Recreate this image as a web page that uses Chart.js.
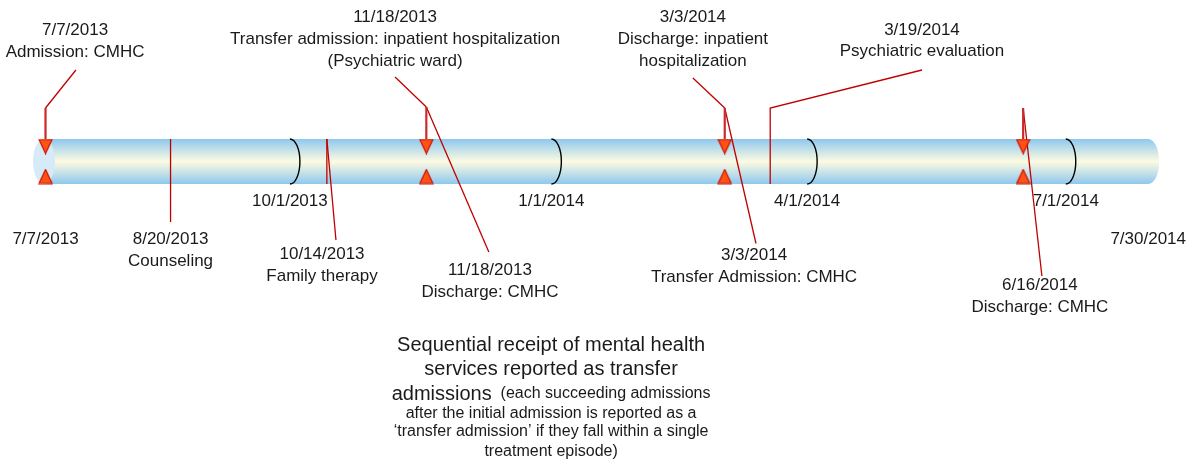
<!DOCTYPE html>
<html>
<head>
<meta charset="utf-8">
<script src="https://cdn.jsdelivr.net/npm/chart.js@4.4.0/dist/chart.umd.min.js"></script>
<style>
  html, body { margin: 0; padding: 0; background: #fff; }
</style>
</head>
<body>
<canvas id="timeline" width="1190" height="466"></canvas>
<script>
// treatment episode, all positions are days counted from the first admission
const startDate = '7/7/2013';
const endDate = '7/30/2014';

// admissions / transfers / discharges -> red triangles
const admitDates = ['7/7/2013', '11/18/2013', '3/3/2014', '6/16/2014'];
// other services -> plain red line through the tube
const serviceDates = ['8/20/2013', '10/14/2013', '3/19/2014'];
// quarter marks on the tube
const tickDates = ['10/1/2013', '1/1/2014', '4/1/2014', '7/1/2014'];

const topDates = ['7/7/2013', '11/18/2013', '3/3/2014', '3/19/2014'];
const topText = [
  ['7/7/2013', 'Admission: CMHC'],
  ['11/18/2013', 'Transfer admission: inpatient hospitalization', '(Psychiatric ward)'],
  ['3/3/2014', 'Discharge: inpatient', 'hospitalization'],
  ['3/19/2014', 'Psychiatric evaluation']
];
const bottomDates = ['7/7/2013', '8/20/2013', '10/14/2013', '11/18/2013', '3/3/2014', '6/16/2014', '7/30/2014'];
const bottomText = [
  ['7/7/2013'],
  ['8/20/2013', 'Counseling'],
  ['10/14/2013', 'Family therapy'],
  ['11/18/2013', 'Discharge: CMHC'],
  ['3/3/2014', 'Transfer Admission: CMHC'],
  ['6/16/2014', 'Discharge: CMHC'],
  ['7/30/2014']
];

const noteText = [
  ['Sequential receipt of mental health'],
  ['services reported as transfer'],
  ['admissions', '  (each succeeding admissions'],
  ['after the initial admission is reported as a'],
  ['\u2018transfer admission\u2019 if they fall within a single'],
  ['treatment episode)']
];

// ---- layout (x offsets in days from the event, y in "levels", tube centre = 0) ----
const TUBE = 2.25;
const MARK = 1.5;
const LINE_GAP = 2.2;
const topLayout = [
  { label: [10.4, 13.15], thin: [[[10.7, 9.15], [0, 5.35]]], stem: [[0, 5.35], [0, TUBE]] },
  { label: [-11, 14.4], thin: [[[-11, 8.45], [0, 5.45]]], stem: [[0, 5.45], [0, TUBE]] },
  { label: [-11.2, 14.4], thin: [[[-11.2, 8.35], [0, 5.35]]], stem: [[0, 5.35], [0, TUBE]] },
  { label: [53.4, 13.1], gap: 2.1, thin: [[[53.4, 9.15], [0, 5.35], [0, -TUBE]]] }
];
const bottomLayout = [
  { label: [0, -7.75] },
  { label: [0, -7.75], thin: [[[0, TUBE], [0, -6.05]]] },
  { label: [-1.7, -9.25], thin: [[[0, TUBE], [0, -TUBE]], [[0, TUBE], [3.2, -7.85]]] },
  { label: [22.4, -10.85], thin: [[[0, 5.45], [22, -9.05]]] },
  { label: [10.3, -9.35], thin: [[[0, 5.35], [11, -8.2]]] },
  { label: [5.9, -12.35], thin: [[[0, 5.35], [6.6, -11.45]]], stem: [[0, 5.35], [0, TUBE]] },
  { label: [0, -7.75] }
];
const noteAt = [177.9, [-18.35, -20.75, -23.25, -25.25, -27.05, -29.05]];
const noteSizes = [[20], [20], [20, 16], [16], [16], [16]];

const FONT = '"Liberation Sans", Arial, sans-serif';
const RED = '#c00000';

function dayOf(s) {
  let p = s.split('/');
  let a = Date.UTC(+p[2], +p[0] - 1, +p[1]);
  let q = startDate.split('/');
  let b = Date.UTC(+q[2], +q[0] - 1, +q[1]);
  return Math.round((a - b) / 86400000);
}

function triangleImg(down) {
  let c = document.createElement('canvas');
  c.width = 15; c.height = 16;
  let g = c.getContext('2d');
  g.beginPath();
  if (down) { g.moveTo(1, 1); g.lineTo(14, 1); g.lineTo(7.5, 15); }
  else { g.moveTo(7.5, 1); g.lineTo(14, 15); g.lineTo(1, 15); }
  g.closePath();
  g.fillStyle = '#ff5214';
  g.fill();
  g.strokeStyle = '#cc1100';
  g.lineWidth = 1.2;
  g.stroke();
  return c;
}

function pathData(day, pts) {
  return pts.map(p => ({ x: day + p[0], y: p[1] }));
}

let datasets = [];
// triangles on top
datasets.push({
  data: admitDates.map(d => ({ x: dayOf(d), y: MARK })),
  pointStyle: triangleImg(true), showLine: false, order: 0
});
datasets.push({
  data: admitDates.map(d => ({ x: dayOf(d), y: -MARK })),
  pointStyle: triangleImg(false), showLine: false, order: 0
});

function addLines(date, lay) {
  let day = dayOf(date);
  (lay.thin || []).forEach(seg => {
    datasets.push({ data: pathData(day, seg), showLine: true, borderColor: RED, borderWidth: 1.3, pointRadius: 0, order: 2 });
  });
  if (lay.stem) {
    datasets.push({ data: pathData(day, lay.stem), showLine: true, borderColor: '#cc2a2a', borderWidth: 2.2, pointRadius: 0, order: 1 });
  }
}
topDates.forEach((d, i) => addLines(d, topLayout[i]));
bottomDates.forEach((d, i) => addLines(d, bottomLayout[i]));

const tubePlugin = {
  id: 'tube',
  beforeDatasetsDraw(chart) {
    const ctx = chart.ctx, x = chart.scales.x, y = chart.scales.y;
    const x0 = x.getPixelForValue(dayOf(startDate));
    const x1 = x.getPixelForValue(dayOf(endDate));
    const yt = y.getPixelForValue(TUBE), yb = y.getPixelForValue(-TUBE);
    const ry = (yb - yt) / 2, yc = (yt + yb) / 2;
    ctx.save();
    let grad = ctx.createLinearGradient(0, yt, 0, yb);
    grad.addColorStop(0, '#8ec8ee');
    grad.addColorStop(0.5, '#fdfbe2');
    grad.addColorStop(1, '#8ec8ee');
    ctx.fillStyle = grad;
    ctx.beginPath();
    ctx.moveTo(x0, yt);
    ctx.lineTo(x1, yt);
    ctx.ellipse(x1, yc, 11, ry, 0, -Math.PI / 2, Math.PI / 2);
    ctx.lineTo(x0, yb);
    ctx.closePath();
    ctx.fill();
    // left face of the cylinder
    ctx.beginPath();
    ctx.ellipse(x0 - 1.5, yc, 11, ry, 0, 0, Math.PI * 2);
    ctx.fillStyle = '#d6eaf8';
    ctx.fill();
    // quarter brackets
    ctx.strokeStyle = '#000';
    ctx.lineWidth = 1.4;
    tickDates.forEach(d => {
      let px = x.getPixelForValue(dayOf(d));
      ctx.beginPath();
      ctx.ellipse(px, yc, 10, ry, 0, -Math.PI / 2, Math.PI / 2);
      ctx.stroke();
    });
    ctx.restore();
  }
};

const labelPlugin = {
  id: 'labels',
  afterDraw(chart) {
    const ctx = chart.ctx, x = chart.scales.x, y = chart.scales.y;
    ctx.save();
    ctx.fillStyle = '#1a1a1a';
    ctx.textAlign = 'center';
    ctx.textBaseline = 'middle';
    ctx.font = '17px ' + FONT;
    function block(date, lines, lay) {
      let day = dayOf(date);
      let gap = lay.gap || LINE_GAP;
      lines.forEach((t, i) => {
        ctx.fillText(t, x.getPixelForValue(day + lay.label[0]), y.getPixelForValue(lay.label[1] - i * gap));
      });
    }
    topDates.forEach((d, i) => block(d, topText[i], topLayout[i]));
    bottomDates.forEach((d, i) => block(d, bottomText[i], bottomLayout[i]));
    tickDates.forEach(d => {
      ctx.fillText(d, x.getPixelForValue(dayOf(d)), y.getPixelForValue(-3.95));
    });
    // footnote
    const cx = x.getPixelForValue(noteAt[0]);
    ctx.textAlign = 'left';
    noteText.forEach((parts, i) => {
      let widths = parts.map((t, j) => { ctx.font = noteSizes[i][j] + 'px ' + FONT; return ctx.measureText(t).width; });
      let total = widths.reduce((a, b) => a + b, 0);
      let px = cx - total / 2;
      let py = y.getPixelForValue(noteAt[1][i]);
      parts.forEach((t, j) => {
        ctx.font = noteSizes[i][j] + 'px ' + FONT;
        ctx.fillText(t, px, py);
        px += widths[j];
      });
    });
    ctx.restore();
  }
};

new Chart(document.getElementById('timeline'), {
  type: 'scatter',
  data: { datasets: datasets },
  options: {
    responsive: false,
    animation: false,
    devicePixelRatio: 1,
    layout: { padding: 0, autoPadding: false },
    scales: {
      x: { type: 'linear', min: -16.01, max: 402.71, display: false },
      y: { type: 'linear', min: -30.45, max: 16.15, display: false }
    },
    plugins: { legend: { display: false }, tooltip: { enabled: false } },
    elements: { point: { radius: 7 } }
  },
  plugins: [tubePlugin, labelPlugin]
});
</script>
</body>
</html>
